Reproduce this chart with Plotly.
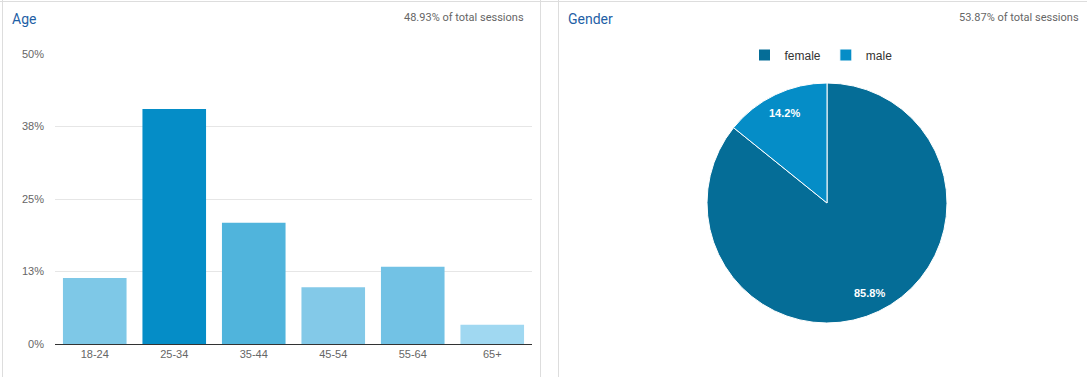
import math
import plotly.graph_objects as go

W, H = 1087, 377

age_groups = ["18-24", "25-34", "35-44", "45-54", "55-64", "65+"]
age_share = [11.4, 40.5, 20.9, 9.8, 13.3, 3.3]
age_colors = ["#7ec8e7", "#058dc7", "#50b4dc", "#83c9e8", "#72c2e5", "#a0d8f1"]
y_tick_vals = [0, 12.5, 25, 37.5, 50]
y_tick_text = ["0%", "13%", "25%", "38%", "50%"]

genders = ["female", "male"]
gender_share = [85.8, 14.2]
gender_colors = ["#056d97", "#058dc7"]

def px(x):
    return x / W

def py(y):
    return 1 - y / H

font_txt = "Liberation Sans"

# pie geometry (pixels)
pie_cx, pie_cy, pie_r = 827, 203, 120

fig = go.Figure()

fig.add_trace(go.Bar(
    x=age_groups, y=age_share,
    marker=dict(color=age_colors, line=dict(width=0)),
    showlegend=False, hoverinfo="x+y",
))

fig.add_trace(go.Pie(
    labels=genders, values=gender_share,
    marker=dict(colors=gender_colors, line=dict(color="white", width=1)),
    sort=False, direction="clockwise", rotation=0,
    textinfo="none", textposition="none",
    domain=dict(x=[px(pie_cx - pie_r), px(pie_cx + pie_r)],
                y=[py(pie_cy + pie_r), py(pie_cy - pie_r)]),
    showlegend=True,
))

# slice labels placed along each slice's bisector
annotations = []
total = sum(gender_share)
start = 0.0
for v in gender_share:
    mid = (start + v / 2) / total * 2 * math.pi
    start += v
    lx = pie_cx + 0.83 * pie_r * math.sin(mid)
    ly = pie_cy - 0.83 * pie_r * math.cos(mid)
    annotations.append(dict(
        text=f"{v / total * 100:.1f}%", xref="paper", yref="paper",
        x=px(lx), y=py(ly), xanchor="center", yanchor="middle", showarrow=False,
        font=dict(size=11, color="white", family="Liberation Sans", weight="bold"),
    ))

annotations += [
    dict(text="Age", xref="paper", yref="paper", x=px(10), y=py(19), xanchor="left", yanchor="middle",
         showarrow=False, font=dict(size=14, color="#1f5fa6", family="Roboto")),
    dict(text="48.93% of total sessions", xref="paper", yref="paper", x=px(526), y=py(17),
         xanchor="right", yanchor="middle", showarrow=False,
         font=dict(size=11, color="#666", family="Roboto")),
    dict(text="Gender", xref="paper", yref="paper", x=px(566), y=py(19), xanchor="left", yanchor="middle",
         showarrow=False, font=dict(size=14, color="#1f5fa6", family="Roboto")),
    dict(text="53.87% of total sessions", xref="paper", yref="paper", x=px(1081), y=py(17),
         xanchor="right", yanchor="middle", showarrow=False,
         font=dict(size=11, color="#666", family="Roboto")),
]

line_style = dict(color="#dddddd", width=1)
fig.update_layout(
    width=W, height=H,
    margin=dict(l=0, r=0, t=0, b=0, pad=0, autoexpand=False),
    paper_bgcolor="white", plot_bgcolor="white",
    font=dict(family=font_txt, size=11, color="#666"),
    bargap=0.2,
    xaxis=dict(
        domain=[px(55), px(532)],
        showgrid=False, showline=True, linecolor="#333", linewidth=1,
        ticks="", tickfont=dict(size=11, color="#666", family=font_txt),
        fixedrange=True, automargin=False,
    ),
    yaxis=dict(
        domain=[py(344), py(54)], range=[0, 50],
        tickvals=y_tick_vals, ticktext=y_tick_text,
        showgrid=True, gridcolor="#e6e6e6", gridwidth=1,
        zeroline=False, showline=False, ticks="",
        tickfont=dict(size=11, color="#666", family=font_txt),
        ticklabelstandoff=10,
        fixedrange=True, automargin=False,
    ),
    legend=dict(
        orientation="h", x=px(821), y=py(55), xanchor="center", yanchor="middle",
        font=dict(size=12, color="#333", family=font_txt),
        itemwidth=30, traceorder="normal",
    ),
    shapes=[
        dict(type="line", xref="paper", yref="paper", x0=px(0), x1=px(1087), y0=py(1.5), y1=py(1.5), line=line_style),
        dict(type="line", xref="paper", yref="paper", x0=px(2.5), x1=px(2.5), y0=py(0), y1=py(377), line=line_style),
        dict(type="line", xref="paper", yref="paper", x0=px(540.5), x1=px(540.5), y0=py(0), y1=py(377), line=line_style),
        dict(type="line", xref="paper", yref="paper", x0=px(558.5), x1=px(558.5), y0=py(0), y1=py(377), line=line_style),
    ],
    annotations=annotations,
)

fig.write_html(
    "out.html",
    config={"displayModeBar": False},
    post_script="document.body.style.margin='0';document.body.style.padding='0';",
)
